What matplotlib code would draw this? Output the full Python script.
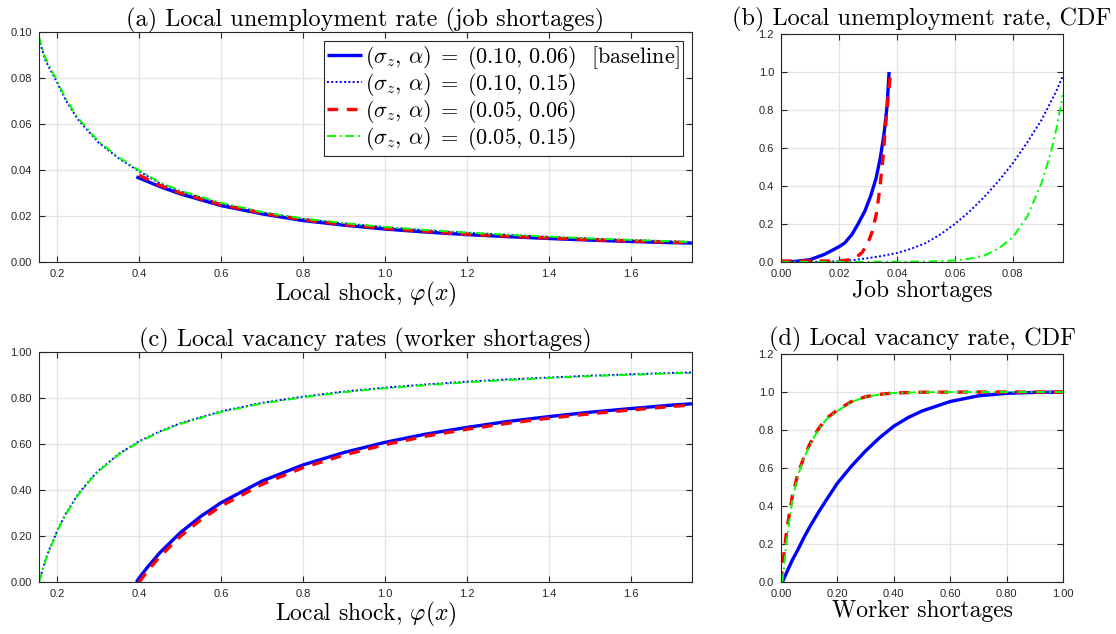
import matplotlib
matplotlib.use("Agg")
import matplotlib.pyplot as plt
from matplotlib.ticker import FormatStrFormatter

plt.rcParams["mathtext.fontset"] = "cm"

# ---- data ----
labels = [r"$(\sigma_z,\,\alpha)\;=\;(0.10,\,0.06)$  [baseline]",
          r"$(\sigma_z,\,\alpha)\;=\;(0.10,\,0.15)$",
          r"$(\sigma_z,\,\alpha)\;=\;(0.05,\,0.06)$",
          r"$(\sigma_z,\,\alpha)\;=\;(0.05,\,0.15)$"]

# (a) unemployment rate vs local shock
phi_lo = [0.155, 0.16, 0.17, 0.18, 0.19, 0.2, 0.22, 0.25, 0.28, 0.3, 0.35, 0.4, 0.45, 0.5,
          0.6, 0.7, 0.8, 0.9, 1.0, 1.1, 1.2, 1.3, 1.4, 1.5, 1.6, 1.7, 1.75]
u_dot = [0.097, 0.094, 0.088, 0.0845, 0.0812, 0.0778, 0.0705, 0.062, 0.056, 0.052, 0.045, 0.0394,
         0.0342, 0.0307, 0.0254, 0.0215, 0.0187, 0.0168, 0.0151, 0.0138, 0.0127, 0.0118, 0.0109,
         0.0102, 0.0095, 0.009, 0.0086]
u_dd = [0.098, 0.095, 0.089, 0.0855, 0.082, 0.0786, 0.0712, 0.0627, 0.0566, 0.0525, 0.0455, 0.0398,
        0.0346, 0.031, 0.0257, 0.0217, 0.0189, 0.0169, 0.0152, 0.0139, 0.0128, 0.0118, 0.011,
        0.0102, 0.0096, 0.009, 0.0087]
phi_hi = [0.393, 0.45, 0.5, 0.6, 0.7, 0.8, 0.9, 1.0, 1.1, 1.2, 1.3, 1.4, 1.5, 1.6, 1.7, 1.75]
u_solid = [0.037, 0.0328, 0.0296, 0.0245, 0.0209, 0.018, 0.016, 0.0143, 0.013, 0.0119, 0.011,
           0.0102, 0.0095, 0.0089, 0.0084, 0.0082]
phi_red = [0.40, 0.45, 0.5, 0.6, 0.7, 0.8, 0.9, 1.0, 1.1, 1.2, 1.3, 1.4, 1.5, 1.6, 1.7, 1.75]
u_red = [0.0377, 0.0333, 0.03, 0.0249, 0.0213, 0.0184, 0.0163, 0.0146, 0.0133, 0.0121, 0.0112,
         0.0104, 0.0097, 0.0091, 0.0086, 0.0084]

# (c) vacancy rate vs local shock
v_dot = [0.0, 0.03, 0.09, 0.14, 0.18, 0.225, 0.295, 0.38, 0.445, 0.483, 0.557, 0.612, 0.655, 0.69,
         0.742, 0.779, 0.806, 0.828, 0.845, 0.859, 0.871, 0.881, 0.889, 0.897, 0.903, 0.909, 0.911]
v_dd = [0.0, 0.028, 0.088, 0.138, 0.178, 0.222, 0.292, 0.377, 0.442, 0.48, 0.554, 0.609, 0.652,
        0.687, 0.739, 0.776, 0.803, 0.825, 0.842, 0.856, 0.868, 0.878, 0.887, 0.895, 0.901, 0.907, 0.909]
phi_c_solid = [0.393, 0.4, 0.42, 0.45, 0.5, 0.55, 0.6, 0.7, 0.8, 0.9, 1.0, 1.1, 1.2, 1.3, 1.4, 1.5,
               1.6, 1.7, 1.75]
v_solid = [0.0, 0.018, 0.064, 0.127, 0.214, 0.285, 0.345, 0.439, 0.509, 0.563, 0.607, 0.643, 0.672,
           0.698, 0.719, 0.738, 0.754, 0.769, 0.775]
phi_c_red = [0.40, 0.42, 0.45, 0.5, 0.55, 0.6, 0.7, 0.8, 0.9, 1.0, 1.1, 1.2, 1.3, 1.4, 1.5, 1.6,
             1.7, 1.75]
v_red = [0.0, 0.048, 0.11, 0.198, 0.27, 0.33, 0.425, 0.497, 0.552, 0.597, 0.634, 0.664, 0.69, 0.712,
         0.731, 0.748, 0.763, 0.77]

# (b) CDF of job shortages
jb_solid_x = [0, 0.005, 0.01, 0.015, 0.02, 0.022, 0.0245, 0.0266, 0.029, 0.031, 0.0328, 0.0343,
              0.0356, 0.0366, 0.0373]
jb_solid_y = [0, 0.003, 0.012, 0.04, 0.08, 0.1, 0.145, 0.2, 0.27, 0.35, 0.44, 0.55, 0.68, 0.82, 1.0]
jb_dot_x = [0, 0.015, 0.02, 0.025, 0.03, 0.035, 0.04, 0.045, 0.05, 0.055, 0.06, 0.065, 0.07,
            0.075, 0.08, 0.085, 0.09, 0.095, 0.0973]
jb_dot_y = [0, 0.001, 0.004, 0.01, 0.02, 0.032, 0.047, 0.07, 0.1, 0.145, 0.2, 0.265, 0.34, 0.425,
            0.52, 0.63, 0.75, 0.9, 0.98]
jb_red_x = [0, 0.02, 0.023, 0.026, 0.028, 0.03, 0.0315, 0.033, 0.0342, 0.0352, 0.036, 0.0367, 0.0377]
jb_red_y = [0.005, 0.005, 0.01, 0.025, 0.05, 0.1, 0.16, 0.26, 0.4, 0.55, 0.7, 0.82, 0.98]
jb_dd_x = [0, 0.05, 0.06, 0.065, 0.07, 0.075, 0.08, 0.085, 0.09, 0.093, 0.095, 0.0973]
jb_dd_y = [0, 0.002, 0.008, 0.017, 0.033, 0.07, 0.13, 0.24, 0.42, 0.57, 0.7, 0.88]

# (d) CDF of worker shortages
wk_solid_x = [0.005, 0.02, 0.04, 0.06, 0.08, 0.1, 0.13, 0.16, 0.2, 0.25, 0.3, 0.35, 0.4, 0.45,
              0.5, 0.6, 0.7, 0.8, 0.9, 1.0]
wk_solid_y = [0, 0.05, 0.115, 0.17, 0.23, 0.285, 0.36, 0.43, 0.52, 0.61, 0.69, 0.76, 0.82, 0.865,
              0.9, 0.95, 0.98, 0.993, 0.998, 1.0]
wk_red_x = [0, 0.01, 0.02, 0.04, 0.06, 0.08, 0.1, 0.13, 0.16, 0.2, 0.25, 0.3, 0.35, 0.4, 0.5, 0.7, 1.0]
wk_red_y = [0, 0.14, 0.27, 0.45, 0.57, 0.65, 0.72, 0.8, 0.86, 0.905, 0.95, 0.975, 0.988, 0.995,
            0.999, 1.0, 1.0]
wk_dd_x = [0.005, 0.01, 0.02, 0.04, 0.06, 0.08, 0.1, 0.13, 0.16, 0.2, 0.25, 0.3, 0.35, 0.4, 0.5, 0.7, 1.0]
wk_dd_y = [0, 0.07, 0.22, 0.43, 0.56, 0.645, 0.715, 0.795, 0.855, 0.9, 0.948, 0.974, 0.987, 0.995,
           0.999, 1.0, 1.0]

# line styles (blue solid, blue dotted, red dashed, green dash-dot)
st_solid = dict(color="#0000ff", lw=2.4, solid_capstyle="butt", solid_joinstyle="round")
st_dot = dict(color="#0000ff", lw=1.4, ls=(0, (1, 1.2)))
st_red = dict(color="#ff0000", lw=2.4, ls=(0, (3.2, 2.6)))
st_dd = dict(color="#00ff00", lw=1.4, ls=(0, (4.5, 2, 1, 2)))

serif = "cmr10"
tick_font = "Liberation Sans"
title_size = 17.5
label_size = 17

fig = plt.figure(figsize=(11.16, 6.34), dpi=100)
ax_a = fig.add_axes([0.0349, 0.5868, 0.5851, 0.3628])
ax_b = fig.add_axes([0.6998, 0.5868, 0.2527, 0.3596])
ax_c = fig.add_axes([0.0349, 0.0820, 0.5851, 0.3628])
ax_d = fig.add_axes([0.6998, 0.0820, 0.2527, 0.3596])


def style(ax):
    ax.grid(True, color="#e3e3e3", lw=0.9)
    ax.set_axisbelow(True)
    ax.tick_params(direction="in", top=True, right=True, length=4, width=0.8,
                   labelsize=8, colors="#262626", pad=5)
    for lab in ax.get_xticklabels() + ax.get_yticklabels():
        lab.set_fontfamily(tick_font)
    for s in ax.spines.values():
        s.set_color("#262626")
        s.set_linewidth(0.8)


# (a)
ax_a.plot(phi_hi, u_solid, label=labels[0], **st_solid)
ax_a.plot(phi_lo, u_dot, label=labels[1], **st_dot)
ax_a.plot(phi_red, u_red, label=labels[2], **st_red)
ax_a.plot(phi_lo, u_dd, label=labels[3], **st_dd)
ax_a.set_xlim(0.155, 1.75)
ax_a.set_ylim(0, 0.10)
ax_a.set_xticks([0.2, 0.4, 0.6, 0.8, 1.0, 1.2, 1.4, 1.6])
ax_a.set_yticks([0, 0.02, 0.04, 0.06, 0.08, 0.10])
ax_a.xaxis.set_major_formatter(FormatStrFormatter("%.1f"))
ax_a.yaxis.set_major_formatter(FormatStrFormatter("%.2f"))
ax_a.set_title("(a) Local unemployment rate (job shortages)", fontfamily=serif,
               fontsize=title_size, pad=4)
ax_a.set_xlabel(r"Local shock, $\varphi(x)$", fontfamily=serif, fontsize=label_size, labelpad=1)
leg = ax_a.legend(loc="upper right", prop={"family": serif, "size": 16}, handlelength=1.55,
                  handletextpad=0.15, borderpad=0.15, labelspacing=0.0, borderaxespad=0.4,
                  fancybox=False, framealpha=1)
leg.get_frame().set_edgecolor("#262626")
leg.get_frame().set_linewidth(0.8)
style(ax_a)

# (b)
ax_b.plot(jb_solid_x, jb_solid_y, **st_solid)
ax_b.plot(jb_dot_x, jb_dot_y, **st_dot)
ax_b.plot(jb_red_x, jb_red_y, **st_red)
ax_b.plot(jb_dd_x, jb_dd_y, **st_dd)
ax_b.set_xlim(0, 0.0973)
ax_b.set_ylim(0, 1.2)
ax_b.set_xticks([0, 0.02, 0.04, 0.06, 0.08])
ax_b.set_yticks([0, 0.2, 0.4, 0.6, 0.8, 1.0, 1.2])
ax_b.xaxis.set_major_formatter(FormatStrFormatter("%.2f"))
ax_b.yaxis.set_major_formatter(FormatStrFormatter("%.1f"))
ax_b.set_title("(b) Local unemployment rate, CDF", fontfamily=serif, fontsize=title_size, pad=6)
ax_b.set_xlabel("Job shortages", fontfamily=serif, fontsize=label_size, labelpad=1)
style(ax_b)

# (c)
ax_c.plot(phi_c_solid, v_solid, **st_solid)
ax_c.plot(phi_lo, v_dot, **st_dot)
ax_c.plot(phi_c_red, v_red, **st_red)
ax_c.plot(phi_lo, v_dd, **st_dd)
ax_c.set_xlim(0.155, 1.75)
ax_c.set_ylim(0, 1.0)
ax_c.set_xticks([0.2, 0.4, 0.6, 0.8, 1.0, 1.2, 1.4, 1.6])
ax_c.set_yticks([0, 0.2, 0.4, 0.6, 0.8, 1.0])
ax_c.xaxis.set_major_formatter(FormatStrFormatter("%.1f"))
ax_c.yaxis.set_major_formatter(FormatStrFormatter("%.2f"))
ax_c.set_title("(c) Local vacancy rates (worker shortages)", fontfamily=serif,
               fontsize=title_size, pad=4)
ax_c.set_xlabel(r"Local shock, $\varphi(x)$", fontfamily=serif, fontsize=label_size, labelpad=1)
style(ax_c)

# (d)
ax_d.plot(wk_solid_x, wk_solid_y, **st_solid)
ax_d.plot(wk_red_x, wk_red_y, **st_red)
ax_d.plot(wk_dd_x, wk_dd_y, **st_dd)
ax_d.set_xlim(0, 1.0)
ax_d.set_ylim(0, 1.2)
ax_d.set_xticks([0, 0.2, 0.4, 0.6, 0.8, 1.0])
ax_d.set_yticks([0, 0.2, 0.4, 0.6, 0.8, 1.0, 1.2])
ax_d.xaxis.set_major_formatter(FormatStrFormatter("%.2f"))
ax_d.yaxis.set_major_formatter(FormatStrFormatter("%.1f"))
ax_d.set_title("(d) Local vacancy rate, CDF", fontfamily=serif, fontsize=title_size, pad=6)
ax_d.set_xlabel("Worker shortages", fontfamily=serif, fontsize=label_size, labelpad=1)
style(ax_d)

fig.savefig("out.png", dpi=100)
